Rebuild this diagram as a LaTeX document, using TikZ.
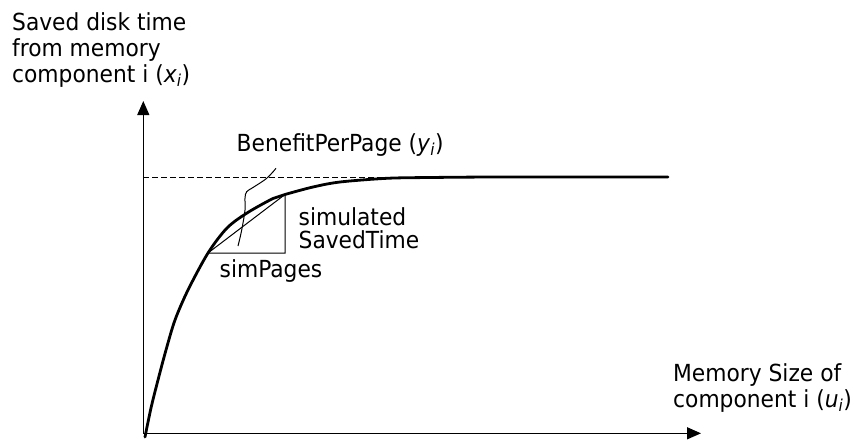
\documentclass[tikz,border=0pt]{standalone}
\usepackage{fontspec}
\setmainfont{DejaVu Sans Condensed}[FakeStretch=1.03]
\usetikzlibrary{arrows.meta}
\tikzset{
  lbl/.style={font=\fontsize{23.5}{26}\selectfont, inner sep=0pt, align=left},
  lbltight/.style={font=\fontsize{23.5}{23.3}\selectfont, inner sep=0pt, align=left},
  axis/.style={line width=1.2pt, -{Triangle[width=12pt,length=14pt]}},
  thin/.style={line width=1pt},
  curve/.style={line width=2.8pt, line join=round, line cap=round}
}
\newcommand{\sub}[2]{\textit{#1}\textsubscript{\textit{#2}}}
\begin{document}
\begin{tikzpicture}[x=1pt,y=-1pt]
\useasboundingbox (0,0) rectangle (858,441);
\coordinate (O) at (143.3,433.3);
\coordinate (Ytop) at (143.3,101);
\coordinate (Xend) at (701,433.3);
\draw[axis] (O) -- (Ytop);
\draw[axis] (O) -- (Xend);
\coordinate (dl) at (143.3,177.3);
\coordinate (dr) at (668,177.3);
\draw[thin, dashed, dash pattern=on 6pt off 3pt] (dl) -- (dr);
% triangle
\coordinate (A) at (208,253);
\coordinate (B) at (285,253);
\coordinate (C) at (285,194.5);
\draw[thin] (A) -- (B) -- (C) -- cycle;
% curve
\draw[curve] plot[smooth, tension=0.5] coordinates {(145,437) (151,408) (158,380) (166,350) (175,320) (188,290) (208,253) (227,228) (247,213) (273,198.5) (285,194.5) (313,187) (340,182) (387,178.3) (430,177.5) (500,177) (668,177)};
% squiggle
\draw[thin] plot[smooth, tension=0.6] coordinates {(276,168.3) (266.7,178.3) (253,187.5) (246.7,191.7) (245,198) (245,210) (241.7,230) (238,246)};
% labels
\node[lbl, anchor=north west] (ylab) at (12,12.8) {Saved disk time\\from memory\\component i (\sub{x}{i})};
\node[lbl, anchor=north west] (xlab) at (673,363.8) {Memory Size of\\component i (\sub{u}{i})};
\node[lbl, anchor=north west] (bpp) at (236.5,133.8) {BenefitPerPage (\sub{y}{i})};
\node[lbltight, anchor=north west] (sst) at (298.5,207.1) {simulated\\SavedTime};
\node[lbl, anchor=north west] (sp) at (219.5,259.4) {simPages};
\end{tikzpicture}
\end{document}
